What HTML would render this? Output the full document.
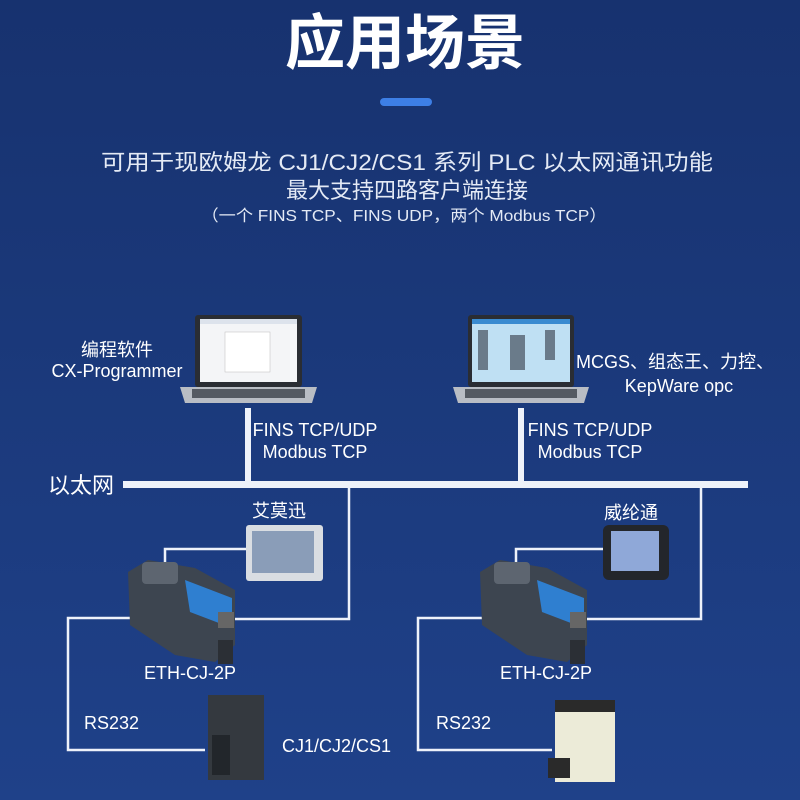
<!DOCTYPE html>
<html><head><meta charset="utf-8"><style>
html,body{margin:0;padding:0}
body{width:800px;height:800px;overflow:hidden;background:#1c3b80;font-family:"Liberation Sans","Noto Sans CJK SC",sans-serif}
svg{position:absolute;left:0;top:0}
</style></head><body>
<svg width="800" height="800" viewBox="0 0 800 800" font-family="Liberation Sans, Noto Sans CJK SC, sans-serif">
<defs>
<linearGradient id="bg" x1="0" y1="0" x2="0" y2="1"><stop offset="0" stop-color="#17326f"/><stop offset="1" stop-color="#1f4189"/></linearGradient>
</defs>
<rect width="800" height="800" fill="url(#bg)"/>
<text x="405" y="64" text-anchor="middle" font-size="60" font-weight="bold" fill="#fff">应用场景</text>
<rect x="380" y="98" width="52" height="8" rx="4" fill="#3d7fe6"/>
<g fill="#e4eaf5" text-anchor="middle">
<text x="407" y="170" font-size="22" textLength="612" lengthAdjust="spacingAndGlyphs">可用于现欧姆龙 CJ1/CJ2/CS1 系列 PLC 以太网通讯功能</text>
<text x="407" y="198" font-size="22">最大支持四路客户端连接</text>
<text x="404" y="221" font-size="16" textLength="405" lengthAdjust="spacingAndGlyphs">（一个 FINS TCP、FINS UDP，两个 Modbus TCP）</text>
</g>
<g stroke="#eef2fa" fill="none">
<line x1="248" y1="408" x2="248" y2="485" stroke-width="6"/>
<line x1="521" y1="408" x2="521" y2="485" stroke-width="6"/>
<line x1="123" y1="484.5" x2="748" y2="484.5" stroke-width="7"/>
<g stroke-width="2.5">
<polyline points="349,488 349,619 230,619"/>
<polyline points="247,549 165,549 165,567"/>
<polyline points="145,618 68,618 68,750 205,750"/>
<polyline points="701,488 701,619 583,619"/>
<polyline points="603,549 516,549 516,567"/>
<polyline points="497,618 418,618 418,750 552,750"/>
</g>
</g>
<g>
<rect x="195" y="315" width="107" height="72" rx="3" fill="#2a2d33"/>
<rect x="200" y="319" width="97" height="63" fill="#f4f5f7"/>
<rect x="200" y="319" width="97" height="5" fill="#dde3ec"/>
<rect x="225" y="332" width="45" height="40" fill="#fff" stroke="#bbb" stroke-width="0.5"/>
<path d="M180 387 H317 L312 403 H185 Z" fill="#b9bdc4"/>
<rect x="192" y="389" width="113" height="9" fill="#555a62"/>
<rect x="468" y="315" width="106" height="72" rx="3" fill="#2a2d33"/>
<rect x="472" y="319" width="98" height="63" fill="#bfe0f3"/>
<rect x="472" y="319" width="98" height="5" fill="#3a8bd0"/>
<g fill="#6a7b8a"><rect x="478" y="330" width="10" height="40"/><rect x="510" y="335" width="15" height="35"/><rect x="545" y="330" width="10" height="30"/></g>
<path d="M453 387 H589 L584 403 H458 Z" fill="#b9bdc4"/>
<rect x="465" y="389" width="112" height="9" fill="#555a62"/>
</g>
<rect x="246" y="525" width="77" height="56" rx="3" fill="#d9dde2"/>
<rect x="252" y="531" width="62" height="42" fill="#8a9db8"/>
<rect x="603" y="525" width="66" height="55" rx="6" fill="#23262b"/>
<rect x="611" y="531" width="48" height="40" fill="#8fa8d8"/>
<g id="d1">
<path d="M128 572 L148 560 L195 568 L235 590 L235 645 L215 662 L175 655 L130 625 Z" fill="#3d4550"/>
<rect x="142" y="562" width="36" height="22" rx="4" fill="#5d6570"/>
<path d="M185 580 L232 598 L232 628 L190 612 Z" fill="#2f7fd0"/>
<rect x="218" y="612" width="16" height="16" fill="#666"/>
<rect x="218" y="640" width="15" height="24" fill="#2b2f35"/>
</g>
<use href="#d1" x="352" y="0"/>
<rect x="208" y="695" width="56" height="85" fill="#34393f"/>
<rect x="212" y="735" width="18" height="40" fill="#22262b"/>
<rect x="555" y="700" width="60" height="82" fill="#ecebd8"/>
<rect x="555" y="700" width="60" height="12" fill="#2a2a2a"/>
<rect x="548" y="758" width="22" height="20" fill="#2a2a2a"/>
<g fill="#fff" font-size="18">
<text x="117" y="356" text-anchor="middle">编程软件</text>
<text x="117" y="377" text-anchor="middle">CX-Programmer</text>
<text x="675" y="368" text-anchor="middle">MCGS、组态王、力控、</text>
<text x="679" y="392" text-anchor="middle">KepWare opc</text>
<text x="315" y="436" text-anchor="middle">FINS TCP/UDP</text>
<text x="315" y="458" text-anchor="middle">Modbus TCP</text>
<text x="590" y="436" text-anchor="middle">FINS TCP/UDP</text>
<text x="590" y="458" text-anchor="middle">Modbus TCP</text>
<text x="48" y="493" font-size="22">以太网</text>
<text x="279" y="517" text-anchor="middle">艾莫迅</text>
<text x="631" y="519" text-anchor="middle">威纶通</text>
<text x="190" y="679" text-anchor="middle">ETH-CJ-2P</text>
<text x="546" y="679" text-anchor="middle">ETH-CJ-2P</text>
<text x="84" y="729">RS232</text>
<text x="436" y="729">RS232</text>
<text x="282" y="752">CJ1/CJ2/CS1</text>
</g>
</svg>
</body></html>
